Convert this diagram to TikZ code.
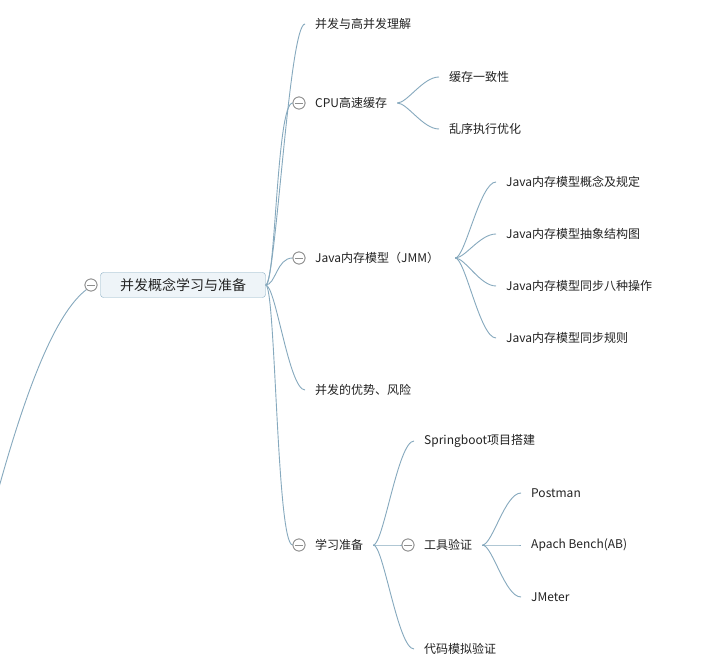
\documentclass[tikz,border=0pt]{standalone}
\usepackage{fontspec}
\setmainfont{Noto Sans CJK SC}
\usepackage{xcolor}
\usetikzlibrary{positioning,calc}

\definecolor{linkblue}{HTML}{86A9BE}
\definecolor{rootfill}{HTML}{EEF4F8}
\definecolor{rootline}{HTML}{8AAFC4}
\definecolor{foldgray}{HTML}{8F8F8F}
\definecolor{textdark}{HTML}{222222}

\begin{document}
\begin{tikzpicture}[
    x=1pt, y=-1pt,
    root/.style={rectangle, draw=rootline, fill=rootfill, rounded corners=3pt, minimum width=165pt, minimum height=25pt, font=\fontsize{14}{16}\selectfont, text=textdark},
    topic/.style={anchor=west, inner xsep=10pt, inner ysep=2pt, font=\fontsize{12}{14}\selectfont, text=textdark},
    fold/.style={circle, draw=foldgray, fill=white, minimum size=12pt, inner sep=0pt, line width=0.8pt,
        path picture={\draw[foldgray, line width=0.8pt] ([xshift=-4pt]path picture bounding box.center) -- ([xshift=4pt]path picture bounding box.center);}},
    branch/.style={draw=linkblue, line width=0.9pt}
]
    \clip (0,0) rectangle (710,671);
    \fill[white] (0,0) rectangle (710,671);

    % central topic
    \node[root] (root) at (183,285) {并发概念学习与准备};
    \node[fold] (froot) at (91,285) {};
    \coordinate (up) at (-8,513);

    % first level
    \node[topic] (t1) at (305,24) {并发与高并发理解};
    \node[topic] (cpu) at (305,103) {CPU高速缓存};
    \node[topic] (jmm) at (305,258) {Java内存模型（JMM）};
    \node[topic] (t4) at (305,390) {并发的优势、风险};
    \node[topic] (prep) at (305,545) {学习准备};
    \node[fold] (fcpu) at (299,103) {};
    \node[fold] (fjmm) at (299,258) {};
    \node[fold] (fprep) at (299,545) {};

    % CPU cache
    \node[topic] (c1) at (439,77) {缓存一致性};
    \node[topic] (c2) at (439,129) {乱序执行优化};

    % JMM
    \node[topic] (j1) at (496,182) {Java内存模型概念及规定};
    \node[topic] (j2) at (496,234) {Java内存模型抽象结构图};
    \node[topic] (j3) at (496,286) {Java内存模型同步八种操作};
    \node[topic] (j4) at (496,338) {Java内存模型同步规则};

    % preparation
    \node[topic] (p1) at (414,441) {Springboot项目搭建};
    \node[topic] (tool) at (414,545) {工具验证};
    \node[topic] (p3) at (414,649) {代码模拟验证};
    \node[fold] (ftool) at (408,545) {};

    % tools
    \node[topic] (k1) at (521,493) {Postman};
    \node[topic] (k2) at (521,545) {Apach Bench(AB)};
    \node[topic] (k3) at (521,597) {JMeter};

    % connectors
    \draw[branch] (froot.south west) .. controls (60,310) and (30,370) .. (up);
    \foreach \c in {t1,fcpu,fjmm,t4,fprep}
        \draw[branch] (root.east) .. controls +(10,0) and +(-16,0) .. (\c.west);
    \foreach \c in {c1,c2}
        \draw[branch] (cpu.east) .. controls +(10,0) and +(-16,0) .. (\c.west);
    \foreach \c in {j1,j2,j3,j4}
        \draw[branch] ([xshift=6pt]jmm.east) .. controls +(10,0) and +(-16,0) .. (\c.west);
    \foreach \c in {p1,ftool,p3}
        \draw[branch] (prep.east) .. controls +(10,0) and +(-16,0) .. (\c.west);
    \foreach \c in {k1,k2,k3}
        \draw[branch] (tool.east) .. controls +(10,0) and +(-16,0) .. (\c.west);

    % redraw folds over the lines
    \foreach \f in {froot,fcpu,fjmm,fprep,ftool}
        \node[fold] at (\f) {};
\end{tikzpicture}
\end{document}
